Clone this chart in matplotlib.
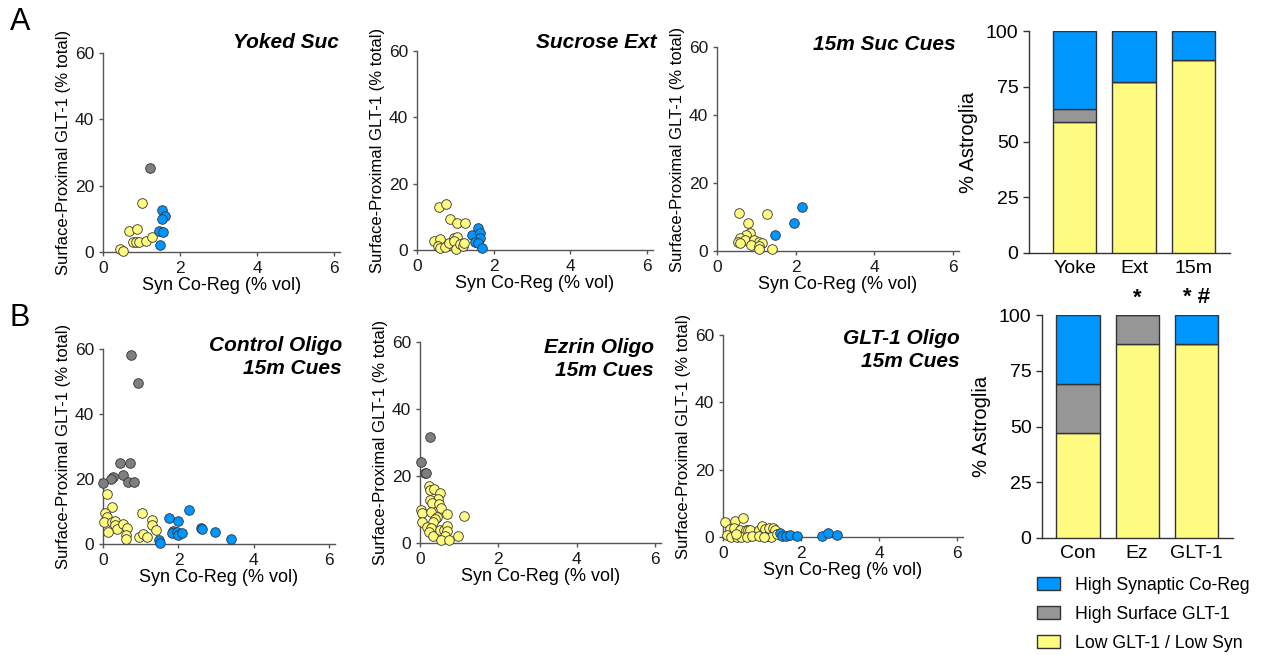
import numpy as np
from matplotlib import pyplot as plt
from matplotlib.patches import Patch

plt.rcParams["font.family"] = ["Liberation Sans", "DejaVu Sans"]

BLUE = "#0096FF"
YELLOW = "#FFFB80"
GRAY_BAR = "#969696"
GRAY_PT = "#7F7F7F"

# ---- scatter data: (x = Syn Co-Reg % vol, y = Surface-Proximal GLT-1 % total)
yoked_yel_x = [1.02, 0.68, 0.89, 0.78, 0.85, 0.93, 1.11, 1.27, 0.44, 0.53]
yoked_yel_y = [14.8, 6.3, 6.8, 3.1, 3.0, 2.9, 3.2, 4.6, 0.9, 0.4]
yoked_gry_x = [1.22]
yoked_gry_y = [25.3]
yoked_blu_x = [1.54, 1.62, 1.54, 1.46, 1.55, 1.47]
yoked_blu_y = [12.6, 10.8, 10.1, 6.3, 6.1, 2.2]

ext_yel_x = [0.57, 0.75, 0.87, 1.04, 1.24, 0.45, 0.59, 0.54, 0.61, 0.74, 0.83, 0.97, 1.03, 0.97, 1.01, 1.13, 1.19, 1.23]
ext_yel_y = [13.1, 13.8, 9.3, 8.1, 8.2, 2.7, 3.3, 1.3, 0.7, 0.9, 2.0, 3.7, 3.8, 2.8, 0.2, 1.8, 1.1, 2.2]
ext_gry_x = []
ext_gry_y = []
ext_blu_x = [1.43, 1.58, 1.63, 1.65, 1.50, 1.59, 1.70]
ext_blu_y = [4.6, 6.6, 5.2, 3.6, 2.3, 2.2, 0.7]

cue_yel_x = [0.56, 1.28, 0.78, 0.83, 0.74, 0.58, 0.71, 0.54, 0.58, 0.95, 1.06, 1.15, 0.87, 1.07, 1.08, 1.41]
cue_yel_y = [11.3, 10.8, 8.2, 5.4, 4.6, 3.8, 3.1, 2.6, 2.3, 3.1, 2.6, 2.4, 1.9, 1.6, 0.6, 0.7]
cue_gry_x = []
cue_gry_y = []
cue_blu_x = [1.47, 1.96, 2.15]
cue_blu_y = [4.8, 8.2, 13.0]

con_yel_x = [0.10, 0.23, 0.04, 0.11, 0.02, 0.25, 0.32, 0.31, 0.37, 0.12, 0.52, 0.63, 0.61, 0.60,
             1.04, 1.31, 1.31, 1.41, 0.95, 1.06, 1.16]
con_yel_y = [15.4, 11.3, 9.4, 8.3, 6.7, 6.8, 7.0, 6.0, 4.5, 3.7, 6.1, 4.8, 2.7, 1.5,
             9.4, 7.3, 5.8, 4.4, 2.1, 3.1, 2.3]
con_gry_x = [0.75, 0.93, 0.44, 0.71, 0.52, 0.27, 0.21, 0.66, 0.83, 0.0]
con_gry_y = [58.2, 49.6, 24.8, 24.8, 21.2, 20.6, 20.0, 19.2, 19.0, 18.9]
con_blu_x = [2.29, 1.75, 2.00, 2.60, 2.62, 2.96, 3.40, 1.85, 1.82, 1.95, 1.98, 2.09, 1.48, 1.51]
con_blu_y = [10.4, 8.1, 7.1, 4.9, 4.6, 3.6, 1.5, 4.1, 3.4, 3.7, 2.7, 3.4, 1.3, 0.3]

ez_yel_x = [0.23, 0.26, 0.35, 0.51, 0.47, 0.26, 0.31, 0.49, 0.54, 0.03, 0.05, 0.27, 0.68, 1.13,
            0.44, 0.39, 0.34, 0.06, 0.18, 0.29, 0.23, 0.32, 0.50, 0.62, 0.68, 0.69, 0.64, 0.53,
            0.74, 0.98]
ez_yel_y = [17.1, 15.7, 16.2, 14.9, 13.1, 12.8, 11.9, 11.5, 10.3, 9.8, 8.9, 9.4, 8.6, 8.1,
            7.9, 7.1, 6.2, 6.2, 4.7, 4.4, 3.3, 2.1, 3.8, 4.0, 5.2, 3.7, 2.1, 1.0,
            0.8, 2.0]
ez_gry_x = [0.26, 0.02, 0.13, 0.15]
ez_gry_y = [31.5, 24.1, 20.9, 20.9]
ez_blu_x = []
ez_blu_y = []

glt_yel_x = [0.04, 0.31, 0.52, 0.17, 0.27, 0.43, 0.58, 0.64, 0.70, 0.09, 0.20, 0.36, 0.47, 0.61,
             0.75, 0.91, 1.00, 1.08, 0.92, 1.15, 1.19, 1.29, 1.33, 1.23, 1.04, 1.38, 0.34]
glt_yel_y = [4.5, 4.7, 5.7, 2.4, 2.7, 2.0, 2.0, 2.2, 2.0, 0.5, 0.1, 0.1, 0.1, 0.1,
             0.3, 2.1, 3.2, 2.3, 0.3, 0.3, 2.7, 2.7, 2.0, 0.1, 0.1, 1.0, 1.0]
glt_gry_x = []
glt_gry_y = []
glt_blu_x = [1.46, 1.51, 1.62, 1.72, 1.89, 2.54, 2.69, 2.91]
glt_blu_y = [1.2, 0.4, 0.4, 0.6, 0.3, 0.4, 1.3, 0.7]

# ---- stacked bar data (% astroglia)
groups_a = ["Yoke", "Ext", "15m"]
low_a = [59, 77, 87]
surf_a = [6, 0, 0]
syn_a = [35, 23, 13]

groups_b = ["Con", "Ez", "GLT-1"]
low_b = [47, 87, 87]
surf_b = [22, 13, 0]
syn_b = [31, 0, 13]
sig_b = ["", "*", "* #"]

fig = plt.figure(figsize=(12.61, 6.55), dpi=100)
W, H = 1261.0, 655.0


def add_ax(l, r, b, t):
    return fig.add_axes([l / W, 1 - b / H, (r - l) / W, (b - t) / H])


def scatter_panel(ax, title, tx, ty, yel, gry, blu):
    for (xs, ys), c in [(yel, YELLOW), (gry, GRAY_PT), (blu, BLUE)]:
        if len(xs):
            ax.scatter(xs, ys, s=48, c=c, edgecolors="#333333", linewidths=0.6,
                       zorder=3, clip_on=False)
    ax.set_xlim(0, 6.15)
    ax.set_ylim(0, 60)
    ax.set_xticks([0, 2, 4, 6])
    ax.set_yticks([0, 20, 40, 60])
    for s in ["top", "right"]:
        ax.spines[s].set_visible(False)
    for s in ["left", "bottom"]:
        ax.spines[s].set_color("#555555")
        ax.spines[s].set_linewidth(1.0)
    ax.tick_params(colors="#555555", labelcolor="#1a1a1a", labelsize=12.5, length=3, width=1)
    ax.set_xlabel("Syn Co-Reg (% vol)", fontsize=13, labelpad=1)
    ax.set_ylabel("Surface-Proximal GLT-1 (% total)", fontsize=12, labelpad=3)
    fig.text(tx / W, 1 - ty / H, title, ha="right", va="center", fontsize=15,
             fontweight="bold", style="italic", linespacing=1.3)


scatter_panel(add_ax(103, 340, 252, 53), "Yoked Suc", 339, 43,
              (yoked_yel_x, yoked_yel_y), (yoked_gry_x, yoked_gry_y), (yoked_blu_x, yoked_blu_y))
scatter_panel(add_ax(417, 653, 250, 51), "Sucrose Ext", 657, 42,
              (ext_yel_x, ext_yel_y), (ext_gry_x, ext_gry_y), (ext_blu_x, ext_blu_y))
scatter_panel(add_ax(717, 959, 251, 47), "15m Suc Cues", 956, 45,
              (cue_yel_x, cue_yel_y), (cue_gry_x, cue_gry_y), (cue_blu_x, cue_blu_y))
scatter_panel(add_ax(103, 335, 544, 349), "Control Oligo\n15m Cues", 342, 357,
              (con_yel_x, con_yel_y), (con_gry_x, con_gry_y), (con_blu_x, con_blu_y))
scatter_panel(add_ax(420, 661, 543, 342), "Ezrin Oligo\n15m Cues", 654, 359,
              (ez_yel_x, ez_yel_y), (ez_gry_x, ez_gry_y), (ez_blu_x, ez_blu_y))
scatter_panel(add_ax(723, 963, 537, 335), "GLT-1 Oligo\n15m Cues", 960, 350,
              (glt_yel_x, glt_yel_y), (glt_gry_x, glt_gry_y), (glt_blu_x, glt_blu_y))


def bar_panel(ax, groups, low, surf, syn, xlim, sig=None):
    x = np.arange(len(groups))
    kw = dict(width=0.73, edgecolor="#333333", linewidth=1.0, zorder=3)
    ax.bar(x, low, color=YELLOW, **kw)
    ax.bar(x, surf, bottom=low, color=GRAY_BAR, **kw)
    ax.bar(x, syn, bottom=np.add(low, surf), color=BLUE, **kw)
    ax.set_xlim(*xlim)
    ax.set_ylim(0, 100)
    ax.set_yticks([0, 25, 50, 75, 100])
    ax.set_xticks(x)
    ax.set_xticklabels(groups)
    for s in ["top", "right"]:
        ax.spines[s].set_visible(False)
    for s in ["left", "bottom"]:
        ax.spines[s].set_color("#333333")
        ax.spines[s].set_linewidth(1.0)
    ax.tick_params(axis="y", labelsize=14, length=4, width=1, color="#333333")
    ax.tick_params(axis="x", labelsize=14, length=0, pad=5)
    ax.set_ylabel("% Astroglia", fontsize=14.5, labelpad=6)
    if sig:
        for xi, s in zip(x, sig):
            if s:
                ax.text(xi, 103, s, ha="center", va="bottom", fontsize=16,
                        fontweight="bold", clip_on=False)


bar_panel(add_ax(1029, 1230, 253, 31), groups_a, low_a, surf_a, syn_a, (-0.77, 2.62))
bar_panel(add_ax(1042, 1233, 538, 315), groups_b, low_b, surf_b, syn_b, (-0.61, 2.62), sig_b)

handles = [Patch(facecolor=BLUE, edgecolor="#333333", label="High Synaptic Co-Reg"),
           Patch(facecolor=GRAY_BAR, edgecolor="#333333", label="High Surface GLT-1"),
           Patch(facecolor=YELLOW, edgecolor="#333333", label="Low GLT-1 / Low Syn")]
fig.legend(handles=handles, loc="upper left", bbox_to_anchor=(1021 / W, 1 - 561 / H),
           frameon=False, fontsize=12.7, handlelength=1.3, handleheight=0.75,
           labelspacing=0.68, handletextpad=0.85)

fig.text(10 / W, 1 - 22 / H, "A", fontsize=22, ha="left", va="center")
fig.text(10 / W, 1 - 318 / H, "B", fontsize=22, ha="left", va="center")

fig.savefig("out.png", dpi=100)
